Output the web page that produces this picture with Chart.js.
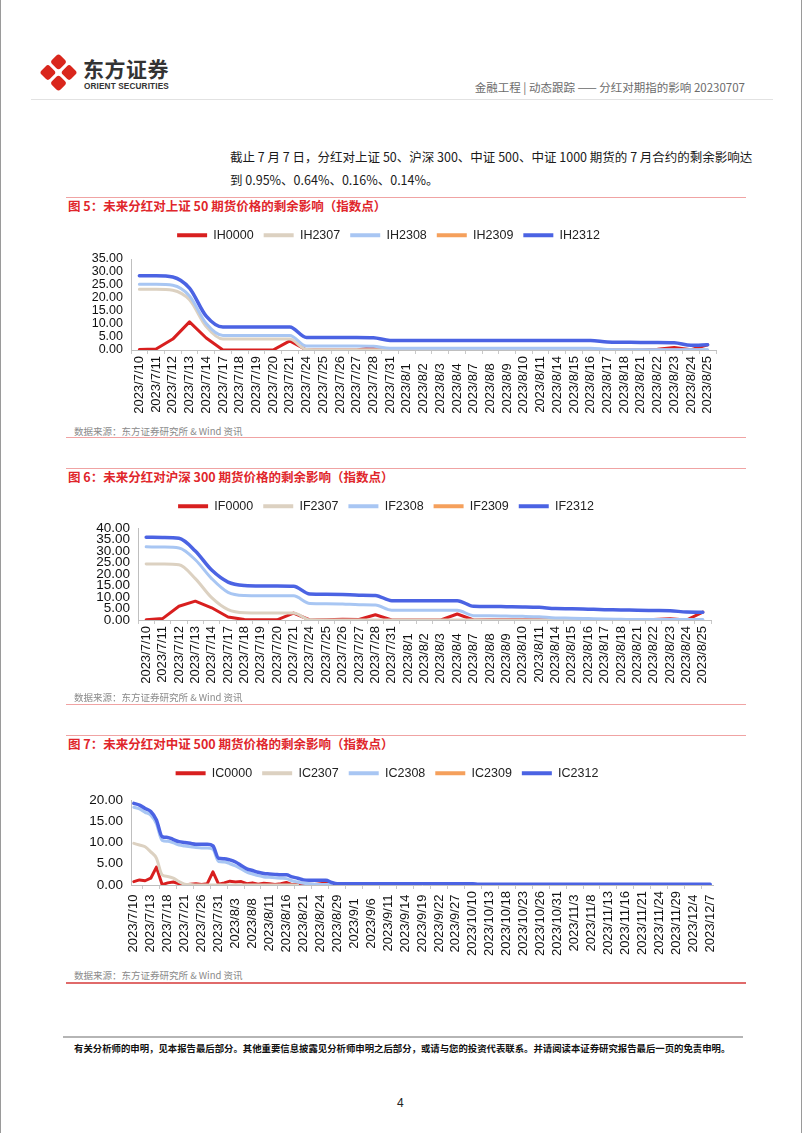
<!DOCTYPE html>
<html>
<head>
<meta charset="utf-8">
<script src="https://cdn.jsdelivr.net/npm/chart.js@4.4.0/dist/chart.umd.min.js"></script>
<style>
  body { margin: 0; background: #fff; }
  #page { position: relative; width: 802px; height: 1133px; overflow: hidden; box-sizing: border-box;
          border-left: 1px solid #9a9a9a; border-right: 1px solid #9a9a9a;
          font-family: "Noto Sans CJK SC", "Liberation Sans", sans-serif; color: #222; }
  .abs { position: absolute; white-space: nowrap; }
  .logo { position: absolute; left: 44px; top: 59px; width: 27px; height: 27px; transform: rotate(45deg); }
  .logo i { position: absolute; width: 12px; height: 12px; background: #d9261c; border-radius: 3px; }
  .rule { position: absolute; left: 65px; width: 680px; height: 1px; background: #f0a3a3; }
  .fig { position: absolute; left: 67px; font-size: 12.5px; font-weight: bold; color: #e0262b; line-height: 18px; }
  .src { position: absolute; left: 73px; font-size: 9.5px; color: #8a8a8a; line-height: 14px; }
  canvas { position: absolute; }
</style>
</head>
<body>
<div id="page">
  <div class="logo"><i style="left:0;top:0"></i><i style="left:15px;top:0"></i><i style="left:0;top:15px"></i><i style="left:15px;top:15px"></i></div>
  <div class="abs" style="left:82px;top:54px;font-size:21px;font-weight:bold;color:#333;line-height:28px;letter-spacing:0.5px">东方证券</div>
  <div class="abs" style="left:83px;top:82px;font-family:'Liberation Sans';font-size:8.2px;font-weight:bold;color:#333;line-height:10px;letter-spacing:0.15px">ORIENT SECURITIES</div>
  <div class="abs" style="right:56px;top:79px;font-size:11.5px;color:#6b6b6b;line-height:16px">金融工程 | 动态跟踪 —— 分红对期指的影响 20230707</div>
  <div class="abs" style="left:30px;top:99px;width:742px;height:1px;background:#e2e2e2"></div>

  <div class="abs" style="left:229px;top:145px;font-size:12.5px;line-height:23px;color:#1a1a1a">截止 7 月 7 日，分红对上证 50、沪深 300、中证 500、中证 1000 期货的 7 月合约的剩余影响达<br>到 0.95%、0.64%、0.16%、0.14%。</div>

  <div class="rule" style="top:197px"></div>
  <div class="fig" style="top:197px">图 5：未来分红对上证 50 期货价格的剩余影响（指数点）</div>
  <canvas id="ihChart" width="705" height="205" style="left:60px;top:219px"></canvas>
  <div class="src" style="top:424px">数据来源：东方证券研究所 &amp; Wind 资讯</div>
  <div class="rule" style="top:437px"></div>

  <div class="rule" style="top:468px"></div>
  <div class="fig" style="top:468px">图 6：未来分红对沪深 300 期货价格的剩余影响（指数点）</div>
  <canvas id="ifChart" width="705" height="204" style="left:60px;top:490px"></canvas>
  <div class="src" style="top:690px">数据来源：东方证券研究所 &amp; Wind 资讯</div>
  <div class="rule" style="top:704px"></div>

  <div class="rule" style="top:735px"></div>
  <div class="fig" style="top:735px">图 7：未来分红对中证 500 期货价格的剩余影响（指数点）</div>
  <canvas id="icChart" width="705" height="202" style="left:60px;top:757px"></canvas>
  <div class="src" style="top:968px">数据来源：东方证券研究所 &amp; Wind 资讯</div>
  <div class="rule" style="top:982px;height:2px;background:#e06a6a"></div>

  <div class="abs" style="left:62px;top:1036px;width:680px;height:2px;background:#b5b5b5"></div>
  <div class="abs" style="left:73px;top:1041px;font-size:9.4px;font-weight:bold;color:#111;line-height:14px">有关分析师的申明，见本报告最后部分。其他重要信息披露见分析师申明之后部分，或请与您的投资代表联系。并请阅读本证券研究报告最后一页的免责申明。</div>
  <div class="abs" style="left:396px;top:1095px;font-family:'Liberation Sans';font-size:12px;color:#222;line-height:16px">4</div>
</div>

<script>
/* ---------- data ---------- */
const datesToAug = ["2023/7/10","2023/7/11","2023/7/12","2023/7/13","2023/7/14","2023/7/17","2023/7/18","2023/7/19","2023/7/20","2023/7/21",
  "2023/7/24","2023/7/25","2023/7/26","2023/7/27","2023/7/28","2023/7/31","2023/8/1","2023/8/2","2023/8/3","2023/8/4",
  "2023/8/7","2023/8/8","2023/8/9","2023/8/10","2023/8/11","2023/8/14","2023/8/15","2023/8/16","2023/8/17","2023/8/18",
  "2023/8/21","2023/8/22","2023/8/23","2023/8/24","2023/8/25"];

const datesToDec = ["2023/7/10","2023/7/11","2023/7/12","2023/7/13","2023/7/14","2023/7/17","2023/7/18","2023/7/19","2023/7/20","2023/7/21",
  "2023/7/24","2023/7/25","2023/7/26","2023/7/27","2023/7/28","2023/7/31",
  "2023/8/1","2023/8/2","2023/8/3","2023/8/4","2023/8/7","2023/8/8","2023/8/9","2023/8/10","2023/8/11","2023/8/14",
  "2023/8/15","2023/8/16","2023/8/17","2023/8/18","2023/8/21","2023/8/22","2023/8/23","2023/8/24","2023/8/25","2023/8/28",
  "2023/8/29","2023/8/30","2023/8/31",
  "2023/9/1","2023/9/4","2023/9/5","2023/9/6","2023/9/7","2023/9/8","2023/9/11","2023/9/12","2023/9/13","2023/9/14",
  "2023/9/15","2023/9/18","2023/9/19","2023/9/20","2023/9/21","2023/9/22","2023/9/25","2023/9/26","2023/9/27","2023/9/28",
  "2023/10/9","2023/10/10","2023/10/11","2023/10/12","2023/10/13","2023/10/16","2023/10/17","2023/10/18","2023/10/19","2023/10/20",
  "2023/10/23","2023/10/24","2023/10/25","2023/10/26","2023/10/27","2023/10/30","2023/10/31",
  "2023/11/1","2023/11/2","2023/11/3","2023/11/6","2023/11/7","2023/11/8","2023/11/9","2023/11/10","2023/11/13","2023/11/14",
  "2023/11/15","2023/11/16","2023/11/17","2023/11/20","2023/11/21","2023/11/22","2023/11/23","2023/11/24","2023/11/27","2023/11/28",
  "2023/11/29","2023/11/30",
  "2023/12/1","2023/12/4","2023/12/5","2023/12/6","2023/12/7"];

// 上证 50
const ihNames = ["IH0000", "IH2307", "IH2308", "IH2309", "IH2312"];
const ih0000 = [0.2, 0.4, 4.2, 10.8, 4.6, 0, 0, 0, 0, 3.5, 0, 0, 0, 0, 1.0, 0, 0, 0, 0, 0, 0, 0, 0, 0, 0, 0, 0, 0, 0, 0, 0, 0.3, 1.0, 0.1, 2.0];
const ih2307 = [23.4, 23.4, 23.0, 19.3, 9.0, 4.2, 4.2, 4.2, 4.2, 4.2, 0.2, 0.1, 0.1, 0.1, 0.1, 0, 0, 0, 0, 0, 0, 0, 0, 0, 0, 0, 0, 0, 0, 0, 0, 0, 0, 0, 0];
const ih2308 = [25.3, 25.3, 24.9, 20.8, 10.2, 5.6, 5.6, 5.6, 5.6, 5.6, 1.5, 1.5, 1.5, 1.5, 1.4, 0.7, 0.7, 0.7, 0.7, 0.7, 0.7, 0.7, 0.7, 0.7, 0.7, 0.7, 0.7, 0.7, 0.2, 0.1, 0.1, 0.1, 0.1, 0.1, 0.1];
const ih2309 = [];
const ih2312 = [28.6, 28.6, 28.1, 23.8, 13.0, 8.8, 8.8, 8.8, 8.8, 8.8, 4.8, 4.8, 4.8, 4.8, 4.7, 3.7, 3.7, 3.7, 3.7, 3.7, 3.7, 3.7, 3.7, 3.7, 3.7, 3.7, 3.7, 3.7, 3.1, 3.0, 2.9, 2.9, 2.8, 1.8, 2.0];

// 沪深 300
const ifNames = ["IF0000", "IF2307", "IF2308", "IF2309", "IF2312"];
const if0000 = [0.1, 0.6, 6.0, 8.2, 5.3, 1.3, 0.2, 0.1, 0.1, 3.0, 0, 0.1, 0.3, 0.2, 2.3, 0, 0, 0, 0, 2.6, 0, 0.1, 0.1, 0.1, 0.1, 0, 0, 0, 0, 0, 0, 0.2, 0.5, 0, 3.4];
const if2307 = [24.4, 24.3, 24.0, 18.0, 9.7, 4.5, 3.1, 3.0, 3.0, 3.0, 0.1, 0, 0, 0, 0, 0, 0, 0, 0, 0, 0, 0, 0, 0, 0, 0, 0, 0, 0, 0, 0, 0, 0, 0, 0];
const if2308 = [31.8, 31.7, 31.3, 26.2, 18.0, 12.0, 10.6, 10.5, 10.5, 10.5, 7.2, 7.1, 7.0, 6.6, 6.5, 4.2, 4.2, 4.2, 4.2, 4.2, 1.9, 1.8, 1.7, 1.6, 1.4, 0.9, 0.8, 0.6, 0.4, 0.3, 0.2, 0.2, 0.2, 0.2, 0.2];
const if2309 = [];
const if2312 = [36.0, 35.9, 35.5, 30.0, 21.7, 16.5, 15.0, 14.8, 14.8, 14.7, 11.3, 11.2, 11.1, 10.8, 10.7, 8.4, 8.4, 8.4, 8.4, 8.4, 6.0, 5.9, 5.8, 5.7, 5.5, 5.0, 4.9, 4.7, 4.5, 4.4, 4.2, 4.1, 4.0, 3.5, 3.4];

// 中证 500
const icNames = ["IC0000", "IC2307", "IC2308", "IC2309", "IC2312"];
const ic0000 = [0.8, 1.2, 1.0, 1.6, 4.2, 0.1, 0.5, 0.7, 0.3, 0.0, 0.2, 0.3, 0.1, 0.3, 3.1, 0.2, 0.5, 0.9, 0.7, 0.8, 0.3, 0.5, 0.2, 0.4, 0.3, 0.1, 0.3, 0.6, 0.1, 0.2, 0.1, 0.2, 0.1, 0.3, 0.5, 0.1, 0.0];
const ic2307 = [9.8, 9.4, 9.0, 7.8, 6.3, 2.4, 2.0, 1.6, 0.8, 0.2, 0.1, 0, 0, 0, 0, 0, 0, 0, 0, 0, 0, 0, 0, 0, 0, 0, 0, 0, 0, 0];
const ic2308 = [18.3, 17.9, 17.1, 16.4, 14.4, 10.5, 10.3, 9.9, 9.4, 9.2, 9.0, 8.8, 8.7, 8.7, 8.4, 5.5, 5.4, 5.0, 4.5, 3.8, 3.0, 2.6, 2.2, 1.9, 1.8, 1.7, 1.6, 1.5, 1.0, 0.7, 0.4, 0.3, 0.2, 0.1, 0.1, 0.1];
const ic2309 = [];
const ic2312 = [19.2, 18.8, 18.0, 17.3, 15.3, 11.4, 11.2, 10.7, 10.2, 10.0, 9.8, 9.6, 9.6, 9.6, 9.2, 6.3, 6.2, 5.9, 5.4, 4.6,
  3.8, 3.4, 3.0, 2.7, 2.6, 2.5, 2.4, 2.4, 1.9, 1.6, 1.2, 1.1, 1.1, 1.1, 1.1, 0.6, 0.3,
  0.3, 0.3, 0.3, 0.3, 0.3, 0.3, 0.3, 0.3, 0.3, 0.3, 0.3, 0.3, 0.3, 0.3, 0.3, 0.3, 0.3, 0.3, 0.3, 0.3, 0.3, 0.3, 0.3, 0.3,
  0.2, 0.2, 0.2, 0.2, 0.2, 0.2, 0.2, 0.2, 0.2, 0.2, 0.2, 0.2, 0.2, 0.2, 0.2, 0.2, 0.2, 0.2, 0.2, 0.2, 0.2, 0.2, 0.2, 0.2, 0.2, 0.2, 0.2, 0.2, 0.2, 0.2,
  0.15, 0.15, 0.15, 0.15, 0.15, 0.15, 0.15, 0.15, 0.15, 0.15, 0.15, 0.15];

/* ---------- style ---------- */
const lineColors = ["#d81f1f", "#dcd1c1", "#a8c6f3", "#f5a05c", "#4b63e3"];
const lineWidths = [3, 3, 3, 3, 3.5];
const tickFont = { family: "Liberation Sans", size: 13 };

// pad labels with trailing spaces so rotated labels line up like the original
function padLabels(labels, spacesPerChar) {
  const maxLen = Math.max(...labels.map(l => l.length));
  return labels.map(l => l + " ".repeat((maxLen - l.length) * spacesPerChar));
}

function makeDatasets(names, series) {
  return names.map((name, i) => ({
    label: name,
    data: series[i],
    borderColor: lineColors[i],
    backgroundColor: lineColors[i],
    borderWidth: lineWidths[i],
    pointRadius: 0,
    borderJoinStyle: "round",
    borderCapStyle: "round",
    cubicInterpolationMode: i === 0 ? "default" : "monotone",
    tension: 0,
    order: names.length - i,
  }));
}

function renderChart(id, labels, names, series, cfg) {
  const padded = padLabels(labels, cfg.spacesPerChar);
  const legendGap = {
    id: "legendGap",
    beforeInit(chart) {
      const fit = chart.legend.fit;
      chart.legend.fit = function () { fit.call(this); this.height += cfg.legendGap; };
    },
  };
  return new Chart(document.getElementById(id).getContext("2d"), {
    type: "line",
    data: { labels, datasets: makeDatasets(names, series) },
    plugins: [legendGap],
    options: {
      responsive: false,
      animation: false,
      layout: { padding: { left: 0, right: cfg.rightPad, top: 0, bottom: 0 } },
      plugins: {
        tooltip: { enabled: false },
        legend: {
          position: "top",
          labels: {
            boxWidth: 30, boxHeight: 4, padding: 10, color: "#222",
            font: { family: "Liberation Sans", size: 12.5 },
            sort: (a, b) => a.datasetIndex - b.datasetIndex,
            generateLabels: c => Chart.defaults.plugins.legend.labels.generateLabels(c).map(l => ({ ...l, lineWidth: 0 })),
          },
        },
      },
      scales: {
        x: {
          offset: true,
          grid: { display: true, drawOnChartArea: false, drawTicks: true, tickLength: 4, color: "#c9c9c9", offset: true },
          border: { display: true, color: "#bfbfbf", width: 1 },
          ticks: {
            autoSkip: false, minRotation: 90, maxRotation: 90, padding: 2, color: "#111", font: tickFont,
            callback: (v, i) => (i % cfg.step ? null : padded[i]),
          },
          afterFit: s => { s.height = 74; },
        },
        y: {
          min: 0, max: cfg.yMax,
          grid: { display: false, drawTicks: false },
          border: { display: true, color: "#bfbfbf", width: 1 },
          ticks: { autoSkip: false, stepSize: 5, padding: 8, color: "#111", font: { family: "Liberation Sans", size: cfg.yFont },
                   callback: v => v.toFixed(2) },
          afterFit: s => { s.width = cfg.yWidth; },
        },
      },
    },
  });
}

renderChart("ihChart", datesToAug, ihNames, [ih0000, ih2307, ih2308, ih2309, ih2312],
  { yMax: 35, step: 1, spacesPerChar: 2, rightPad: 50, yWidth: 70, yFont: 12.5, legendGap: 7.5 });
renderChart("ifChart", datesToAug, ifNames, [if0000, if2307, if2308, if2309, if2312],
  { yMax: 40, step: 1, spacesPerChar: 2, rightPad: 55, yWidth: 77, yFont: 13.5, legendGap: 5.5 });
renderChart("icChart", datesToDec, icNames, [ic0000, ic2307, ic2308, ic2309, ic2312],
  { yMax: 20, step: 3, spacesPerChar: 1, rightPad: 53, yWidth: 70, yFont: 13.5, legendGap: 10.5 });
</script>
</body>
</html>
